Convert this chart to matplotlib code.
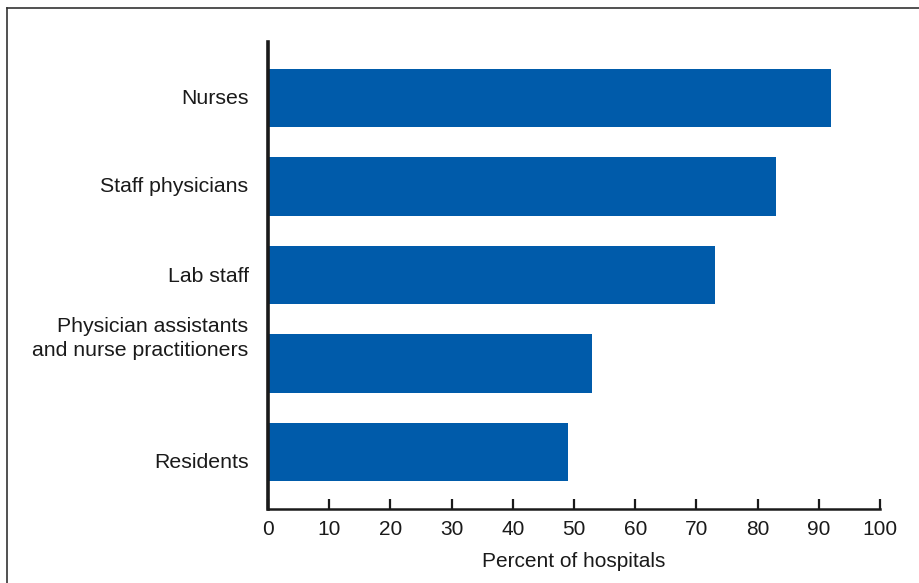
import matplotlib
matplotlib.use("Agg")
import matplotlib.pyplot as plt
from matplotlib.lines import Line2D
from matplotlib import font_manager

categories = ["Nurses", "Staff physicians", "Lab staff",
              "Physician assistants\nand nurse practitioners", "Residents"]
values = [92, 83, 73, 53, 49]
xticks = [0, 10, 20, 30, 40, 50, 60, 70, 80, 90, 100]
xlabel = "Percent of hospitals"

names = {f.name for f in font_manager.fontManager.ttflist}
narrow = "Liberation Sans Narrow" if "Liberation Sans Narrow" in names else "Liberation Sans"

W, H = 920, 583
fig = plt.figure(figsize=(W / 100, H / 100), dpi=100)
ax = fig.add_axes([268 / W, 1 - 509 / H, (880 - 268) / W, (509 - 42) / H])

ypos = [4, 3, 2, 1, 0]
ax.barh(ypos, values, height=0.66, color="#005BAA", edgecolor="none", zorder=2)
ax.set_xlim(0, 100)
ax.set_ylim(-0.644, 4.633)

for s in ["top", "right"]:
    ax.spines[s].set_visible(False)
ax.spines["left"].set_linewidth(2.6)
ax.spines["bottom"].set_linewidth(1.8)
ax.spines["left"].set_color("#1a1a1a")
ax.spines["bottom"].set_color("#1a1a1a")

ax.set_xticks(xticks)
ax.set_xticklabels([str(t) for t in xticks], fontfamily=narrow, fontsize=15, color="#1a1a1a")
ax.tick_params(axis="x", direction="in", length=7, width=1.6, pad=8, color="#1a1a1a")
ax.set_yticks([])
ax.set_xlabel(xlabel, fontfamily=narrow, fontsize=15, color="#1a1a1a", labelpad=9)

# label vertical offsets in points (positive = up)
offsets = [0, 0, -1, 18, -7.5]
for y, lab, off in zip(ypos, categories, offsets):
    ax.annotate(lab, xy=(0, y), xycoords="data", xytext=(-14, off), textcoords="offset points",
                ha="right", va="center", fontsize=15.3, fontfamily="Liberation Sans",
                color="#1a1a1a", linespacing=1.32)

fig.add_artist(Line2D([7.5 / W, 7.5 / W], [0, 1 - 8 / H], transform=fig.transFigure,
                      color="#333333", lw=1.2))
fig.add_artist(Line2D([7.5 / W, 1], [1 - 8 / H, 1 - 8 / H], transform=fig.transFigure,
                      color="#333333", lw=1.2))

fig.savefig("out.png", dpi=100)
